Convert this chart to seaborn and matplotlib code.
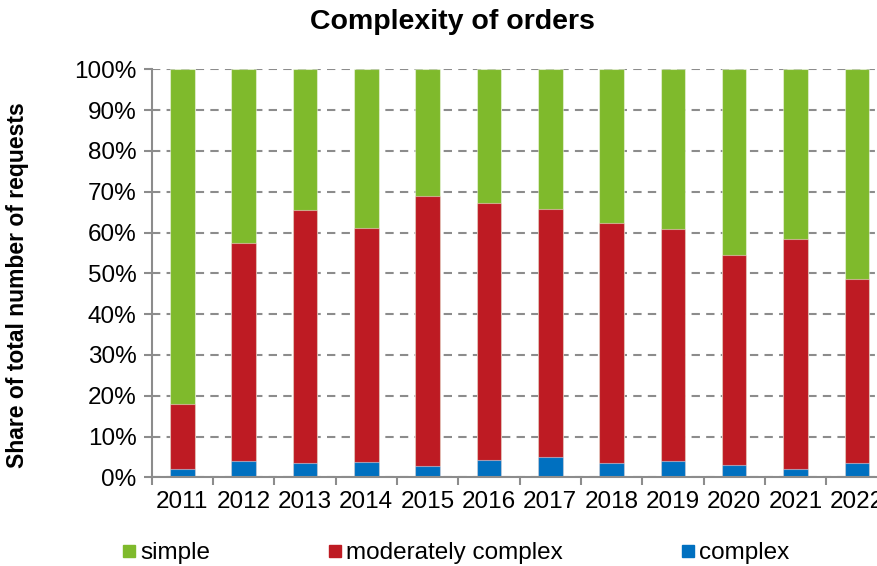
import matplotlib
matplotlib.use("Agg")
import matplotlib.pyplot as plt
import seaborn as sns
import pandas as pd
import numpy as np
from matplotlib.lines import Line2D

years = ["2011", "2012", "2013", "2014", "2015", "2016", "2017", "2018", "2019", "2020", "2021", "2022"]
complex_share = [2.1, 3.9, 3.4, 3.8, 2.8, 4.2, 4.9, 3.4, 3.9, 2.9, 2.0, 3.4]
moderate_share = [15.9, 53.6, 62.2, 57.3, 66.2, 63.1, 60.8, 59.0, 57.0, 51.5, 56.3, 45.3]
simple_share = [82.0, 42.5, 34.4, 38.9, 31.0, 32.7, 34.3, 37.6, 39.1, 45.6, 41.7, 51.3]
series_names = ["simple", "moderately complex", "complex"]
colors = {"simple": "#7FBA2C", "moderately complex": "#BE1B23", "complex": "#0070C0"}

sns.set_theme(style="white")
plt.rcParams["font.family"] = ["Liberation Sans", "DejaVu Sans"]
plt.rcParams["text.color"] = "black"

df = pd.DataFrame({"year": years, "complex": complex_share,
                   "moderate": moderate_share, "simple": simple_share})
df["top_complex"] = df["complex"]
df["top_moderate"] = df["complex"] + df["moderate"]
df["top_simple"] = df["top_moderate"] + df["simple"]

fig = plt.figure(figsize=(8.78, 5.66), dpi=100)
ax = fig.add_axes([151.7 / 878, 1 - 477.3 / 566, 735.8 / 878, 408 / 566])

layers = [("top_simple", "simple"), ("top_moderate", "moderately complex"), ("top_complex", "complex")]
for col, name in layers:
    sns.barplot(data=df, x="year", y=col, order=years, color=colors[name], width=0.4,
                saturation=1, edgecolor=(1, 1, 1, 0.45), linewidth=0.8, ax=ax, zorder=3)

ax.set_xlim(-0.5, len(years) - 0.5)
ax.set_ylim(0, 100)
ax.set_yticks(np.arange(0, 101, 10))
ax.set_yticklabels([f"{v}%" for v in range(0, 101, 10)])
ax.set_xticks(np.arange(len(years) + 1) - 0.5, minor=True)
ax.tick_params(axis="x", which="major", length=0, pad=10, labelsize=17.5, colors="black")
ax.tick_params(axis="x", which="minor", length=6, width=1.5, color="#8c8c8c", direction="out", bottom=True)
ax.tick_params(axis="y", which="major", length=6, width=1.5, color="#8c8c8c", direction="out",
               left=True, pad=5, labelsize=17.5, labelcolor="black")
ax.set_xlabel("")
ax.set_ylabel("")
ax.yaxis.grid(True, color="#8c8c8c", linestyle=(0, (4, 3)), linewidth=1.5, zorder=0)
ax.set_axisbelow(True)
for s in ["top", "right"]:
    ax.spines[s].set_visible(False)
for s in ["left", "bottom"]:
    ax.spines[s].set_color("#8c8c8c")
    ax.spines[s].set_linewidth(1.5)
    ax.spines[s].set_zorder(4)

fig.text(452 / 878, 1 - 22 / 566, "Complexity of orders", ha="center", va="center",
         fontsize=20.5, fontweight="bold", color="black")
fig.text(18 / 878, 1 - 285 / 566, "Share of total number of requests", ha="center", va="center",
         rotation=90, fontsize=16.5, fontweight="bold", color="black")

handles = [Line2D([], [], marker="s", linestyle="none", markersize=9,
                  markerfacecolor=colors[n], markeredgecolor=colors[n]) for n in series_names]
leg = fig.legend(handles, series_names, loc="center", bbox_to_anchor=(456 / 878, 1 - 553 / 566), ncol=3,
                 frameon=False, fontsize=17.5, handlelength=0.5, handletextpad=0.2, columnspacing=4.9,
                 borderpad=0, borderaxespad=0)
for t in leg.get_texts():
    t.set_color("black")

fig.savefig("out.png", dpi=100)
